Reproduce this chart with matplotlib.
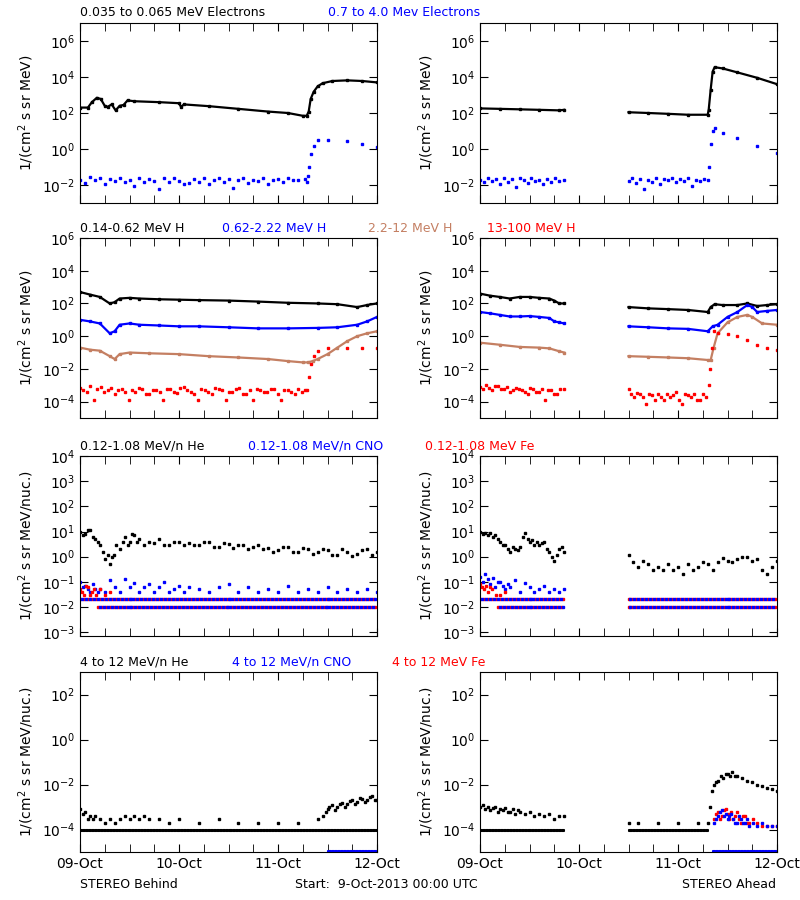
import numpy as np
import matplotlib
matplotlib.use("Agg")
import matplotlib.pyplot as plt
from matplotlib.ticker import FixedLocator, NullFormatter

W, H = 800, 900
TAN = '#c47f62'

# ---------- data (time in days since 9-Oct-2013 00:00) ----------
# Row 1: electrons
eloB_t = [0, .08, .12, .17, .21, .25, .28, .32, .36, .40, .44, .48, .55, .8, 1.0, 1.02, 1.05, 1.3, 1.6, 1.9, 2.1, 2.25, 2.29, 2.31, 2.33, 2.36, 2.4, 2.45, 2.55, 2.7, 2.85, 3.0]
eloB_v = [2e2, 2e2, 4e2, 7e2, 6e2, 2.5e2, 2.2e2, 3e2, 1.4e2, 2.5e2, 2.8e2, 5e2, 4.5e2, 4e2, 3.5e2, 2.2e2, 3e2, 2.4e2, 1.7e2, 1.2e2, 1e2, 7e1, 7e1, 1.2e2, 6e2, 1.5e3, 3e3, 4.5e3, 6e3, 6.5e3, 6e3, 5e3]
ehiB_t = [0, .05, .1, .15, .2, .25, .3, .35, .4, .45, .5, .55, .6, .65, .7, .75, .8, .85, .9, .95, 1.0, 1.05, 1.1, 1.15, 1.2, 1.25, 1.3, 1.35, 1.4, 1.45, 1.5, 1.55, 1.6, 1.65, 1.7, 1.75, 1.8, 1.85, 1.9, 1.95, 2.0, 2.05, 2.1, 2.15, 2.2, 2.27, 2.29, 2.3, 2.31, 2.33, 2.36, 2.4, 2.5, 2.7, 2.85, 3.0]
ehiB_v = [2e-2, 1.3e-2, 2.8e-2, 1.8e-2, 2.5e-2, 1.2e-2, 2.2e-2, 1.6e-2, 2.6e-2, 1.4e-2, 2e-2, 9e-3, 2.4e-2, 1.5e-2, 2.2e-2, 1.7e-2, 6e-3, 2.3e-2, 1.4e-2, 2.5e-2, 1.6e-2, 1.2e-2, 1.3e-2, 2.2e-2, 1.5e-2, 2.6e-2, 1.1e-2, 1.9e-2, 2.3e-2, 1.4e-2, 2.1e-2, 7e-3, 1.8e-2, 2.4e-2, 1.3e-2, 2e-2, 1.6e-2, 2.5e-2, 1.2e-2, 1.9e-2, 2.2e-2, 1.5e-2, 2.4e-2, 1.8e-2, 2e-2, 2.2e-2, 1.5e-2, 3e-2, 1e-1, 5e-1, 1.5, 3, 3.2, 2.7, 2, 1.3]
eloA_t = [0, .2, .4, .6, .8, .85, None, 1.5, 1.7, 1.9, 2.1, 2.3, 2.31, 2.33, 2.35, 2.37, 2.45, 2.6, 2.8, 3.0]
eloA_v = [1.8e2, 1.7e2, 1.6e2, 1.5e2, 1.4e2, 1.5e2, None, 1.1e2, 1e2, 9e1, 8e1, 8e1, 1.5e2, 2e3, 2e4, 3.5e4, 3e4, 1.8e4, 9e3, 4e3]
ehiA_t = [0, .04, .08, .12, .16, .2, .24, .28, .32, .36, .4, .44, .48, .52, .56, .6, .64, .68, .72, .76, .8, .85, None, 1.5, 1.54, 1.58, 1.62, 1.66, 1.7, 1.74, 1.78, 1.82, 1.86, 1.9, 1.94, 1.98, 2.02, 2.06, 2.1, 2.14, 2.18, 2.22, 2.26, 2.3, 2.31, 2.33, 2.35, 2.37, 2.45, 2.6, 2.8, 3.0]
ehiA_v = [2e-2, 1.4e-2, 2.6e-2, 1.7e-2, 2.2e-2, 1.2e-2, 2.4e-2, 1.5e-2, 2.1e-2, 8e-3, 2.3e-2, 1.8e-2, 1.3e-2, 2.5e-2, 1.6e-2, 2e-2, 1.1e-2, 2.2e-2, 1.5e-2, 2.4e-2, 1.7e-2, 1.8e-2, None, 1.6e-2, 2.5e-2, 1.3e-2, 2.2e-2, 6e-3, 2e-2, 1.5e-2, 2.6e-2, 1.1e-2, 2.2e-2, 1.8e-2, 2.4e-2, 1.4e-2, 2.1e-2, 1.6e-2, 2.3e-2, 9e-3, 2e-2, 1.7e-2, 2.2e-2, 2e-2, 1e-1, 2, 1e1, 1.4e1, 8, 4, 1.5, 6e-1]

# Row 2: protons
hlB_t = [0, .1, .2, .3, .35, .4, .5, .6, .8, 1.0, 1.2, 1.5, 1.8, 2.1, 2.4, 2.6, 2.8, 2.9, 3.0]
hlB_v = [5e2, 3.5e2, 2.5e2, 1e2, 1.2e2, 2e2, 2.2e2, 2e2, 1.8e2, 1.7e2, 1.6e2, 1.5e2, 1.3e2, 1.1e2, 1e2, 9e1, 6e1, 8e1, 1e2]
hmB_t = [0, .1, .2, .3, .35, .4, .5, .6, .8, 1.0, 1.2, 1.5, 1.8, 2.1, 2.4, 2.6, 2.8, 2.9, 3.0]
hmB_v = [1e1, 8, 6, 1.5, 2, 5, 6, 5, 4.5, 4, 4, 3.5, 3, 3, 3.2, 3.5, 5, 8, 1.5e1]
hhB_t = [0, .1, .2, .3, .35, .4, .5, .7, 1.0, 1.3, 1.6, 1.9, 2.1, 2.25, 2.3, 2.35, 2.4, 2.5, 2.6, 2.7, 2.8, 2.9, 3.0]
hhB_v = [2e-1, 1.5e-1, 1.3e-1, 6e-2, 4e-2, 8e-2, 1e-1, 9e-2, 8e-2, 6e-2, 5e-2, 4e-2, 3e-2, 2.5e-2, 2.5e-2, 3e-2, 4e-2, 8e-2, 2e-1, 5e-1, 1, 1.5, 2]
hxB_t = [0, .035, .07, .105, .14, .175, .21, .245, .28, .315, .35, .385, .42, .455, .49, .525, .56, .6, .63, .665, .7, .735, .77, .805, .84, .875, .91, .945, .98, 1.015, 1.05, 1.085, 1.12, 1.155, 1.19, 1.225, 1.26, 1.295, 1.33, 1.365, 1.4, 1.435, 1.47, 1.505, 1.54, 1.575, 1.61, 1.645, 1.68, 1.715, 1.75, 1.785, 1.82, 1.855, 1.89, 1.925, 1.96, 1.995, 2.03, 2.065, 2.1, 2.135, 2.17, 2.205, 2.24, 2.27, 2.29, 2.31, 2.33, 2.36, 2.4, 2.5, 2.7, 2.85, 3.0]
hxB_v = [7e-4, 5e-4, 4e-4, 9e-4, 1.3e-4, 6e-4, 8e-4, 4e-4, 5e-4, 7e-4, 3e-4, 5e-4, 6e-4, 4e-4, 1.3e-4, 5e-4, 4e-4, 7e-4, 6e-4, 3e-4, 3e-4, 5e-4, 5e-4, 4e-4, 1.3e-4, 6e-4, 6e-4, 4e-4, 3.5e-4, 7e-4, 8e-4, 5e-4, 4e-4, 3e-4, 1.3e-4, 6e-4, 5e-4, 4e-4, 3e-4, 7e-4, 6e-4, 5e-4, 1.3e-4, 4e-4, 4e-4, 6e-4, 7e-4, 3e-4, 3e-4, 5e-4, 1.3e-4, 6e-4, 5e-4, 4e-4, 4e-4, 6e-4, 6e-4, 3e-4, 1.3e-4, 5e-4, 5e-4, 4e-4, 3e-4, 6e-4, 4e-4, 5e-4, 5e-4, 3e-3, 2e-2, 6e-2, 1.2e-1, 1.8e-1, 2e-1, 1.8e-1, 1.8e-1]

hlA_t = [0, .1, .2, .3, .4, .5, .6, .7, .75, .8, .85, None, 1.5, 1.7, 1.9, 2.1, 2.3, 2.33, 2.37, 2.45, 2.6, 2.7, 2.8, 2.9, 3.0]
hlA_v = [4e2, 3e2, 2.5e2, 2e2, 2.5e2, 2.5e2, 2.2e2, 2e2, 1.5e2, 1e2, 1e2, None, 6e1, 5e1, 4.5e1, 4e1, 3e1, 6e1, 9e1, 8e1, 8e1, 1e2, 7e1, 8e1, 9e1]
hmA_t = [0, .1, .2, .3, .4, .5, .6, .7, .75, .8, .85, None, 1.5, 1.7, 1.9, 2.1, 2.3, 2.35, 2.4, 2.5, 2.6, 2.7, 2.75, 2.8, 2.9, 3.0]
hmA_v = [3e1, 2.5e1, 2e1, 1.6e1, 1.6e1, 1.7e1, 1.5e1, 1.3e1, 8, 7, 6, None, 4, 3.5, 3, 2.8, 2, 4, 5, 1.5e1, 3e1, 8e1, 6e1, 3e1, 3.5e1, 4e1]
hhA_t = [0, .2, .4, .6, .7, .8, .85, None, 1.5, 1.7, 1.9, 2.1, 2.3, 2.33, 2.36, 2.4, 2.5, 2.6, 2.7, 2.75, 2.85, 3.0]
hhA_v = [4e-1, 3e-1, 2.2e-1, 2e-1, 1.8e-1, 1.2e-1, 1e-1, None, 6e-2, 5.5e-2, 5e-2, 4.5e-2, 3.5e-2, 3.5e-2, 2e-1, 1.5, 7, 1.5e1, 2e1, 1.5e1, 6, 5]
hxA_t = [0, .03, .06, .09, .12, .15, .18, .21, .24, .27, .3, .33, .36, .39, .42, .45, .48, .51, .54, .57, .6, .63, .66, .69, .72, .75, .78, .81, .85, None, 1.5, 1.53, 1.56, 1.59, 1.62, 1.65, 1.68, 1.71, 1.74, 1.77, 1.8, 1.83, 1.86, 1.89, 1.92, 1.95, 1.98, 2.01, 2.04, 2.07, 2.1, 2.13, 2.16, 2.19, 2.22, 2.25, 2.28, 2.31, 2.32, 2.34, 2.36, 2.4, 2.5, 2.6, 2.7, 2.8, 2.9, 3.0]
hxA_v = [8e-4, 6e-4, 1e-3, 7e-4, 5e-4, 9e-4, 9e-4, 6e-4, 6e-4, 8e-4, 4e-4, 5e-4, 7e-4, 6e-4, 5e-4, 4e-4, 3e-4, 7e-4, 6e-4, 4e-4, 4e-4, 6e-4, 1.3e-4, 5e-4, 5e-4, 3e-4, 3e-4, 6e-4, 6e-4, None, 6e-4, 3e-4, 2e-4, 3.5e-4, 3e-4, 2e-4, 7e-5, 3e-4, 2.5e-4, 1.3e-4, 3e-4, 2e-4, 1.3e-4, 3e-4, 2e-4, 2.5e-4, 4e-4, 1.3e-4, 7e-5, 3e-4, 2.5e-4, 2e-4, 3e-4, 1.3e-4, 1.3e-4, 3e-4, 2e-4, 1e-3, 1e-2, 2e-1, 2, 1.5, 1.3, 1, 6e-1, 3e-1, 2e-1, 1.5e-1]

# Row 3: low-energy heavy ions
heB_t = [0, .03, .05, .08, .1, .13, .15, .18, .2, .23, .25, .28, .3, .32, .34, .36, .4, .43, .45, .48, .5, .53, .55, .58, .6, .65, .7, .75, .8, .85, .9, .95, 1.0, 1.05, 1.1, 1.15, 1.2, 1.25, 1.3, 1.35, 1.4, 1.45, 1.5, 1.55, 1.6, 1.65, 1.7, 1.75, 1.8, 1.85, 1.9, 1.95, 2.0, 2.05, 2.1, 2.15, 2.2, 2.25, 2.3, 2.35, 2.4, 2.45, 2.5, 2.55, 2.6, 2.65, 2.7, 2.75, 2.8, 2.85, 2.9, 2.95, 3.0]
heB_v = [1e1, 7, 8, 1.2e1, 1.1e1, 6, 5, 4, 3, 1.5, 8e-1, 1.2, 5e-1, 1, 1.2, 3, 2, 4, 6, 3, 4, 8, 7, 4, 5, 3, 4, 3.5, 5, 3, 3, 4, 4, 3, 3.5, 2.8, 3, 4, 4, 2.5, 2.5, 3.5, 3.2, 2.2, 2.8, 3, 2, 2.5, 3, 2, 2.2, 1.5, 1.8, 2.5, 2.5, 1.5, 1.6, 2.2, 2, 1.3, 1.5, 2, 1.8, 1.2, 1.2, 2, 1.6, 1.1, 1.3, 1.8, 2, 1.2, 1.5]
cnoB_t = [0, .03, .05, .08, .1, .13, .15, .18, .2, .25, .3, .35, .4, .45, .5, .55, .6, .65, .7, .75, .8, .85, .9, .95, 1.0, 1.05, 1.1, 1.2, 1.3, 1.4, 1.5, 1.6, 1.7, 1.8, 1.9, 2.0, 2.1, 2.2, 2.3, 2.4, 2.5, 2.6, 2.7, 2.8, 2.9, 3.0]
cnoB_v = [1e-1, 6e-2, 7e-2, 5e-2, 4e-2, 8e-2, 5e-2, 4e-2, 5e-2, 4e-2, 1.2e-1, 6e-2, 4e-2, 1.3e-1, 6e-2, 9e-2, 4e-2, 6e-2, 8e-2, 4e-2, 6e-2, 1e-1, 4e-2, 5e-2, 7e-2, 4e-2, 6e-2, 5e-2, 4e-2, 6e-2, 8e-2, 4e-2, 6e-2, 4e-2, 5e-2, 4e-2, 7e-2, 4e-2, 5e-2, 4e-2, 6e-2, 4e-2, 5e-2, 4e-2, 5e-2, 4e-2]
feB_t = [0, .02, .04, .06, .08, .1, .12, .14, .16, .2, .25, .3]
feB_v = [5e-2, 4e-2, 3e-2, 7e-2, 6e-2, 3e-2, 4e-2, 5e-2, 3e-2, 5e-2, 3e-2, 4e-2]
heA_t = [0, .03, .05, .08, .1, .13, .15, .18, .2, .23, .25, .28, .3, .33, .35, .38, .4, .43, .45, .48, .5, .53, .55, .58, .6, .63, .65, .68, .7, .73, .75, .78, .8, .83, .85, None, 1.5, 1.55, 1.6, 1.65, 1.7, 1.75, 1.8, 1.85, 1.9, 1.95, 2.0, 2.05, 2.1, 2.15, 2.2, 2.25, 2.3, 2.35, 2.4, 2.45, 2.5, 2.55, 2.6, 2.65, 2.7, 2.75, 2.8, 2.85, 2.9, 2.95, 3.0]
heA_v = [1e1, 8, 9, 7, 9, 6, 7, 5, 4, 3, 3, 2, 1.5, 2.5, 2, 1.8, 2.5, 6, 9, 5, 4, 4.5, 3, 4, 3, 3.5, 4, 2, 1.5, 1e0, 7e-1, 1.2, 2, 2.5, 1.5, None, 1.2, 6e-1, 4e-1, 7e-1, 5e-1, 3e-1, 4e-1, 3e-1, 5e-1, 3e-1, 4e-1, 2e-1, 5e-1, 3e-1, 4e-1, 6e-1, 5e-1, 3e-1, 6e-1, 9e-1, 7e-1, 6e-1, 8e-1, 1, 1e0, 7e-1, 8e-1, 3e-1, 2e-1, 4e-1, 7e-1]
cnoA_t = [0, .03, .05, .08, .1, .13, .15, .18, .2, .23, .25, .28, .3, .35, .4, .45, .5, .55, .6, .65, .7, .75, .8, .85]
cnoA_v = [1.5e-1, 1e-1, 2e-1, 1.3e-1, 8e-2, 1.4e-1, 6e-2, 1e-1, 1e-1, 7e-2, 5e-2, 8e-2, 6e-2, 1.2e-1, 4e-2, 9e-2, 6e-2, 4e-2, 5e-2, 7e-2, 4e-2, 5e-2, 4e-2, 5e-2]
feA_t = [0, .02, .04, .06, .08, .1, .12, .16, .2, .25]
feA_v = [8e-2, 6e-2, 5e-2, 7e-2, 4e-2, 6e-2, 5e-2, 3e-2, 3e-2, 4e-2]
# quantised one-count levels (1e-2 and 2e-2) and their time spans
lvl_B = [[0.18, 3.0], [0.0, 3.0]]
lvl_A = [[0.18, 0.85, 1.5, 3.0], [0.0, 0.85, 1.5, 3.0]]
lvl_v = [1e-2, 2e-2]

# Row 4: high-energy heavy ions
he4B_t = [0, .03, .05, .08, .1, .13, .15, .2, .25, .3, .35, .4, .45, .5, .55, .6, .65, .7, .8, .9, 1.0, 1.2, 1.4, 1.6, 1.8, 2.0, 2.2, 2.4, 2.45, 2.48, 2.5, 2.52, 2.55, 2.58, 2.6, 2.63, 2.65, 2.68, 2.7, 2.73, 2.75, 2.78, 2.8, 2.83, 2.85, 2.88, 2.9, 2.93, 2.95, 2.98, 3.0]
he4B_v = [8e-4, 5e-4, 6e-4, 3e-4, 4e-4, 3e-4, 4e-4, 3e-4, 2e-4, 3e-4, 2e-4, 3e-4, 4e-4, 3e-4, 4e-4, 3e-4, 4e-4, 3e-4, 3e-4, 2e-4, 3e-4, 2e-4, 3e-4, 2e-4, 2e-4, 2e-4, 2e-4, 3e-4, 4e-4, 6e-4, 8e-4, 1e-3, 1.2e-3, 7e-4, 1e-3, 1.4e-3, 1.5e-3, 1e-3, 1.3e-3, 1.8e-3, 2e-3, 1.4e-3, 1.6e-3, 2.4e-3, 2.2e-3, 1.6e-3, 2e-3, 2.8e-3, 3e-3, 2e-3, 2e-3]
he4A_t = [0, .03, .05, .08, .1, .13, .15, .18, .2, .23, .25, .28, .3, .33, .35, .38, .4, .45, .5, .55, .6, .65, .7, .75, .8, .85, None, 1.5, 1.6, 1.8, 2.0, 2.2, 2.3, 2.32, 2.34, 2.36, 2.38, 2.4, 2.43, 2.45, 2.48, 2.5, 2.53, 2.55, 2.58, 2.6, 2.65, 2.7, 2.75, 2.8, 2.85, 2.9, 2.95, 3.0]
he4A_v = [1e-3, 1.2e-3, 8e-4, 1e-3, 7e-4, 9e-4, 1e-3, 6e-4, 8e-4, 7e-4, 9e-4, 6e-4, 6e-4, 8e-4, 5e-4, 7e-4, 6e-4, 5e-4, 6e-4, 4e-4, 5e-4, 4e-4, 5e-4, 3e-4, 4e-4, 4e-4, None, 2e-4, 2e-4, 2e-4, 2e-4, 2e-4, 2e-4, 1e-3, 5e-3, 1e-2, 1.3e-2, 1.5e-2, 2.5e-2, 2e-2, 3e-2, 3e-2, 2.5e-2, 3.5e-2, 2.5e-2, 2.5e-2, 2e-2, 1.5e-2, 1.3e-2, 1e-2, 9e-3, 7e-3, 6e-3, 5e-3]
hvyA_t = [2.36, 2.38, 2.4, 2.42, 2.44, 2.46, 2.48, 2.5, 2.52, 2.54, 2.56, 2.58, 2.6, 2.62, 2.64, 2.66, 2.68, 2.7, 2.72, 2.76, 2.8, 2.85, 2.9, 2.95, 3.0]
hvyA_red = [3e-4, 5e-4, 6e-4, 3e-4, 4e-4, 7e-4, 8e-4, 5e-4, 3e-4, 6e-4, 3e-4, 4e-4, 6e-4, 3e-4, 2e-4, 4e-4, 4e-4, 2e-4, 2e-4, 3e-4, 2e-4, 1.5e-4, 1.5e-4, 1.5e-4, 1.5e-4]
hvyA_blue = [2e-4, 3e-4, 4e-4, 6e-4, 7e-4, 4e-4, 5e-4, 3e-4, 4e-4, 5e-4, 3e-4, 2e-4, 2e-4, 4e-4, 3e-4, 2e-4, 2e-4, 3e-4, 1.5e-4, 2e-4, 1.5e-4, 2e-4, 1.5e-4, 1.5e-4, 1.5e-4]
floor_B = [[0.0, 3.0], [2.5, 3.0]]
floor_A = [[0.0, 0.85, 1.5, 2.3], [2.35, 3.0]]
floor_v = [1e-4, 1.1e-5]

xticks = [0, 1, 2, 3]
xlabels = ['09-Oct', '10-Oct', '11-Oct', '12-Oct']

titles = [
    [('0.035 to 0.065 MeV Electrons', 'black', 80), ('0.7 to 4.0 Mev Electrons', 'blue', 328)],
    [('0.14-0.62 MeV H', 'black', 80), ('0.62-2.22 MeV H', 'blue', 222), ('2.2-12 MeV H', TAN, 368), ('13-100 MeV H', 'red', 487)],
    [('0.12-1.08 MeV/n He', 'black', 80), ('0.12-1.08 MeV/n CNO', 'blue', 248), ('0.12-1.08 MeV Fe', 'red', 425)],
    [('4 to 12 MeV/n He', 'black', 80), ('4 to 12 MeV/n CNO', 'blue', 232), ('4 to 12 MeV Fe', 'red', 392)],
]
row_top = [23, 238, 456, 672]
ylims = [(1e-3, 1e7), (1e-5, 1e6), (10**-3.15, 1e4), (1e-5, 1e3)]
yticks = [[1e-2, 1, 1e2, 1e4, 1e6], [1e-4, 1e-2, 1, 1e2, 1e4, 1e6],
          [1e-3, 1e-2, 1e-1, 1, 1e1, 1e2, 1e3, 1e4], [1e-4, 1e-2, 1, 1e2]]
ylab = ['1/(cm$^2$ s sr MeV)', '1/(cm$^2$ s sr MeV)',
        '1/(cm$^2$ s sr MeV/nuc.)', '1/(cm$^2$ s sr MeV/nuc.)']


def arr(v):
    return np.array([np.nan if x is None else x for x in v], dtype=float)


def curve(ax, t, v, c):
    ax.plot(arr(t), arr(v), color=c, lw=1.6, marker='s', ms=1.5)


def dots(ax, t, v, c):
    ax.plot(arr(t), arr(v), ls='none', color=c, marker='s', ms=2)


def levels(ax, spans, vals, step=0.02):
    for span, val in zip(spans, vals):
        for a, b in zip(span[::2], span[1::2]):
            tt = np.arange(a, b, step)
            ax.plot(tt[0::2], [val] * len(tt[0::2]), ls='none', marker='s', ms=1.6, color='red')
            ax.plot(tt[1::2], [val] * len(tt[1::2]), ls='none', marker='s', ms=1.6, color='blue')


def black_floor(ax, spans, vals):
    for span, val in zip(spans, vals):
        for a, b in zip(span[::2], span[1::2]):
            tt = np.arange(a, b, 0.015)
            ax.plot(tt, [val] * len(tt), ls='none', marker='s', ms=1.2,
                    color='black' if val > 5e-5 else 'blue')


fig = plt.figure(figsize=(8, 9), dpi=100)
axes = {}
for r in range(4):
    for c, left in enumerate([80, 480]):
        ax = fig.add_axes([left / W, 1 - (row_top[r] + 180) / H, 297 / W, 180 / H])
        ax.set_yscale('log')
        ax.set_xlim(0, 3)
        ax.set_ylim(*ylims[r])
        ax.yaxis.set_major_locator(FixedLocator(yticks[r]))
        ax.yaxis.set_minor_formatter(NullFormatter())
        ax.yaxis.set_minor_locator(FixedLocator([]))
        ax.set_xticks(xticks)
        ax.set_xticks(np.arange(0, 3.01, 0.25), minor=True)
        ax.tick_params(which='both', direction='in', top=True, right=True, length=6, labelsize=10)
        if r < 3:
            ax.set_xticklabels([])
        else:
            ax.set_xticklabels(xlabels)
        ax.set_ylabel(ylab[r], fontsize=10)
        axes[(r, c)] = ax

for r, row in enumerate(titles):
    for txt, col, x in row:
        fig.text(x / W, 1 - (row_top[r] - 10) / H, txt, color=col, fontsize=9, va='center')

ax = axes[(0, 0)]
dots(ax, ehiB_t, ehiB_v, 'blue'); curve(ax, eloB_t, eloB_v, 'black')
ax = axes[(0, 1)]
dots(ax, ehiA_t, ehiA_v, 'blue'); curve(ax, eloA_t, eloA_v, 'black')

ax = axes[(1, 0)]
curve(ax, hlB_t, hlB_v, 'black'); curve(ax, hmB_t, hmB_v, 'blue')
curve(ax, hhB_t, hhB_v, TAN); dots(ax, hxB_t, hxB_v, 'red')
ax = axes[(1, 1)]
curve(ax, hlA_t, hlA_v, 'black'); curve(ax, hmA_t, hmA_v, 'blue')
curve(ax, hhA_t, hhA_v, TAN); dots(ax, hxA_t, hxA_v, 'red')

ax = axes[(2, 0)]
levels(ax, lvl_B, lvl_v)
dots(ax, cnoB_t, cnoB_v, 'blue'); dots(ax, feB_t, feB_v, 'red'); dots(ax, heB_t, heB_v, 'black')
ax = axes[(2, 1)]
levels(ax, lvl_A, lvl_v)
dots(ax, cnoA_t, cnoA_v, 'blue'); dots(ax, feA_t, feA_v, 'red'); dots(ax, heA_t, heA_v, 'black')

ax = axes[(3, 0)]
black_floor(ax, floor_B, floor_v)
dots(ax, he4B_t, he4B_v, 'black')
ax = axes[(3, 1)]
black_floor(ax, floor_A, floor_v)
dots(ax, he4A_t, he4A_v, 'black')
dots(ax, hvyA_t, hvyA_red, 'red'); dots(ax, hvyA_t, hvyA_blue, 'blue')

fig.text(80 / W, 1 - 884 / H, 'STEREO Behind', fontsize=9, va='center')
fig.text(295 / W, 1 - 884 / H, 'Start:  9-Oct-2013 00:00 UTC', fontsize=9, va='center')
fig.text(682 / W, 1 - 884 / H, 'STEREO Ahead', fontsize=9, va='center')

fig.savefig('out.png', dpi=100)
